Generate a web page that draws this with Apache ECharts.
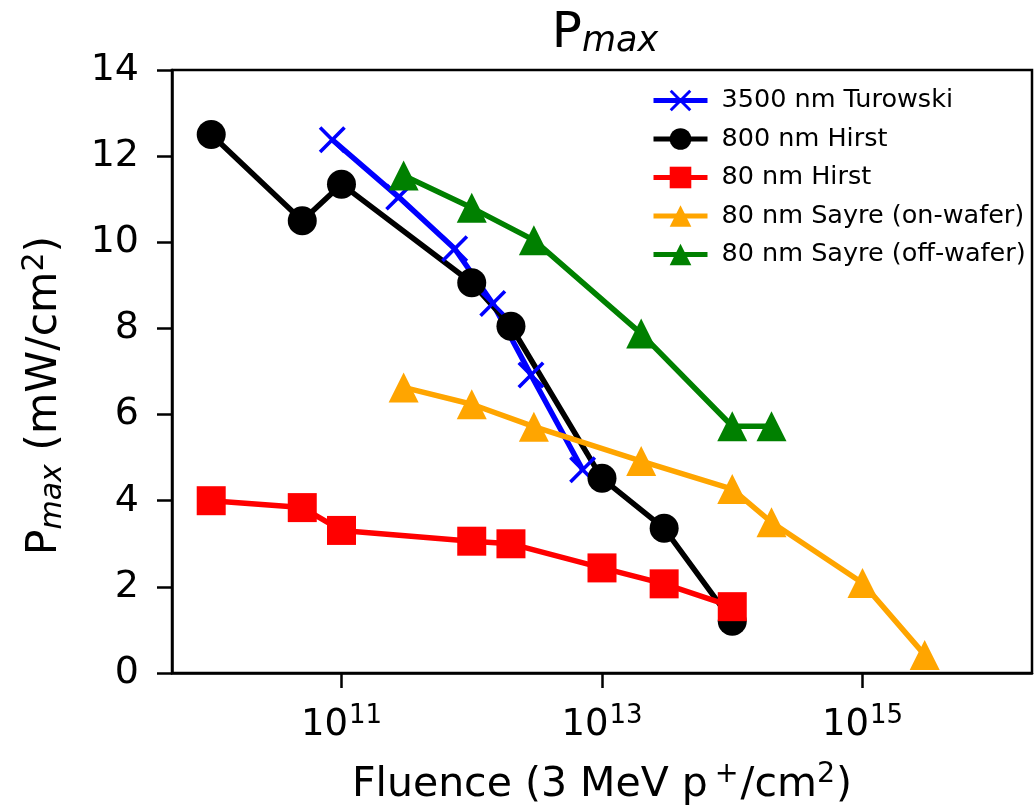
<!DOCTYPE html>
<html>
<head>
<meta charset="utf-8">
<title>Pmax vs fluence</title>
<script src="https://cdn.jsdelivr.net/npm/echarts@6/dist/echarts.min.js"></script>
<style>
  html, body { margin: 0; padding: 0; background: #fff; }
  #chart { width: 1036px; height: 810px; }
</style>
</head>
<body>
<div id="chart"></div>
<script>
// 数据：辐照通量 (3 MeV p+/cm2) 与 Pmax (mW/cm2)
const seriesNames = ['3500 nm Turowski', '800 nm Hirst', '80 nm Hirst', '80 nm Sayre (on-wafer)', '80 nm Sayre (off-wafer)'];

const fluenceTurowski = [8.5e10, 2.75e11, 7.4e11, 1.45e12, 2.85e12, 7.1e12];
const pmaxTurowski = [12.38, 11.05, 9.85, 8.58, 6.92, 4.72];

const fluenceHirst800 = [1e10, 5e10, 1e11, 1e12, 2e12, 1e13, 3e13, 1e14];
const pmaxHirst800 = [12.5, 10.5, 11.35, 9.06, 8.05, 4.52, 3.36, 1.2];

const fluenceHirst80 = [1e10, 5e10, 1e11, 1e12, 2e12, 1e13, 3e13, 1e14];
const pmaxHirst80 = [4.0, 3.84, 3.31, 3.06, 3.0, 2.44, 2.07, 1.54];

const fluenceSayreOn = [3e11, 1e12, 3e12, 2e13, 1e14, 2e14, 1e15, 3e15];
const pmaxSayreOn = [6.63, 6.24, 5.72, 4.92, 4.27, 3.5, 2.09, 0.42];

const fluenceSayreOff = [3e11, 1e12, 3e12, 2e13, 1e14, 2e14];
const pmaxSayreOff = [11.55, 10.8, 10.05, 7.88, 5.73, 5.73];

const xTickValues = [1e11, 1e13, 1e15];
const yTickLabels = [0, 2, 4, 6, 8, 10, 12, 14];

(function() {
  'use strict';

  const FONT = 'DejaVu Sans';
  const LINE_W = 5.5;
  const chart = echarts.init(document.getElementById('chart'));

  // matplotlib 风格的 "x" 标记
  const crossPath = 'path://M0,1.9L1.9,0L10,8.1L18.1,0L20,1.9L11.9,10L20,18.1L18.1,20L10,11.9L1.9,20L0,18.1L8.1,10Z';

  function pairs(xs, ys) {
    return xs.map((x, i) => [x, ys[i]]);
  }

  function makeSeries(name, xs, ys, color, symbol, size) {
    return {
      name: name,
      type: 'line',
      data: pairs(xs, ys),
      symbol: symbol,
      symbolSize: size,
      showAllSymbol: true,
      lineStyle: { color: color, width: LINE_W },
      itemStyle: { color: color },
      emphasis: { disabled: true }
    };
  }

  const option = {
    animation: false,
    backgroundColor: '#fff',
    textStyle: { fontFamily: FONT, color: '#000' },
    title: {
      text: '{p|P}{sub|max}',
      left: 600,
      textAlign: 'center',
      top: 0,
      textStyle: {
        fontWeight: 'normal',
        rich: {
          p: { fontFamily: FONT, fontSize: 50, fontWeight: 'normal', color: '#000', lineHeight: 58 },
          sub: { fontFamily: FONT, fontSize: 35, fontStyle: 'italic', fontWeight: 'normal', color: '#000', padding: [15, 0, 0, 0], lineHeight: 58 }
        }
      }
    },
    grid: {
      left: 172,
      right: 4,
      top: 70,
      bottom: 137,
      outerBoundsMode: 'none',
      show: true,
      borderColor: '#000',
      borderWidth: 2.5,
      backgroundColor: 'transparent'
    },
    legend: {
      data: seriesNames,
      orient: 'vertical',
      left: 646,
      top: 82,
      itemWidth: 54,
      itemHeight: 27,
      itemGap: 11.5,
      selectedMode: false,
      lineStyle: { width: 5 },
      textStyle: { fontFamily: FONT, fontSize: 25.5, lineHeight: 27, color: '#000', padding: [0, 0, 0, 9] }
    },
    xAxis: {
      type: 'log',
      logBase: 10,
      min: 5e9,
      max: 2e16,
      name: '{t|Fluence (3 MeV p}{plus|+}{t|/cm}{two|2}{t|)}',
      nameLocation: 'middle',
      nameGap: 88,
      nameTextStyle: {
        rich: {
          t: { fontFamily: FONT, fontSize: 41, color: '#000', lineHeight: 48 },
          plus: { fontFamily: FONT, fontSize: 28.5, color: '#000', padding: [0, 2, 20, 7], lineHeight: 48 },
          two: { fontFamily: FONT, fontSize: 28.5, color: '#000', padding: [0, 1, 20, 0], lineHeight: 48 }
        }
      },
      axisLine: { lineStyle: { color: '#000', width: 2.5 } },
      axisTick: { customValues: xTickValues, length: 15, lineStyle: { color: '#000', width: 2.5 } },
      axisLabel: {
        customValues: xTickValues,
        margin: 29,
        formatter: function(v) {
          return '{b|10}{e|' + Math.round(Math.log10(v)) + '}';
        },
        rich: {
          b: { fontFamily: FONT, fontSize: 37, color: '#000', lineHeight: 46 },
          e: { fontFamily: FONT, fontSize: 26, color: '#000', padding: [0, 0, 18, 1], lineHeight: 46 }
        }
      },
      splitLine: { show: false },
      minorTick: { show: false }
    },
    yAxis: {
      type: 'value',
      min: yTickLabels[0],
      max: yTickLabels[yTickLabels.length - 1],
      interval: 2,
      // 末尾的空白 token 让标题整体下移，与原图居中位置一致
      name: '{t|P}{sub|max}{t| (mW/cm}{sup|2}{t|)}{gap|}',
      nameLocation: 'middle',
      nameGap: 101,
      nameRotate: 90,
      nameTextStyle: {
        rich: {
          t: { fontFamily: FONT, fontSize: 42.5, color: '#000', lineHeight: 52 },
          sub: { fontFamily: FONT, fontSize: 30, fontStyle: 'italic', color: '#000', padding: [17, 0, 0, 0], lineHeight: 52 },
          sup: { fontFamily: FONT, fontSize: 30, color: '#000', padding: [0, 0, 20, 0], lineHeight: 52 },
          gap: { width: 48, lineHeight: 52 }
        }
      },
      axisLine: { show: true, lineStyle: { color: '#000', width: 2.5 } },
      axisTick: { show: true, length: 15, lineStyle: { color: '#000', width: 2.5 } },
      axisLabel: { fontFamily: FONT, fontSize: 38, color: '#000', margin: 33 },
      splitLine: { show: false }
    },
    series: [
      makeSeries(seriesNames[0], fluenceTurowski, pmaxTurowski, '#0000ff', crossPath, 27),
      makeSeries(seriesNames[1], fluenceHirst800, pmaxHirst800, '#000000', 'circle', 29),
      makeSeries(seriesNames[2], fluenceHirst80, pmaxHirst80, '#ff0000', 'rect', 29),
      makeSeries(seriesNames[3], fluenceSayreOn, pmaxSayreOn, '#ffa500', 'triangle', 30),
      makeSeries(seriesNames[4], fluenceSayreOff, pmaxSayreOff, '#008000', 'triangle', 30)
    ]
  };

  chart.setOption(option);

  window.addEventListener('resize', function() {
    chart.resize();
  });
})();
</script>
</body>
</html>
